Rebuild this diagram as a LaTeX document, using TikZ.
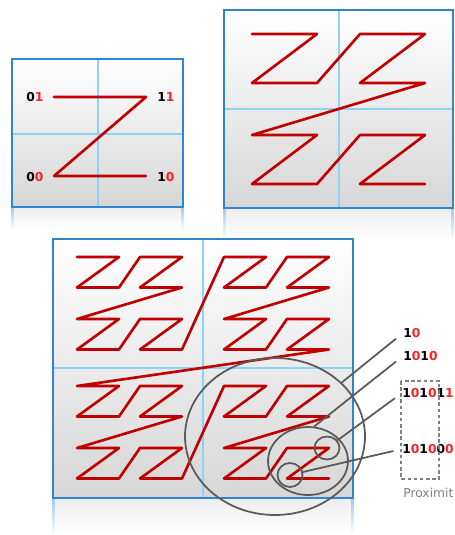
\documentclass[tikz,border=0pt]{standalone}
\usepackage{fontspec}
\setmainfont{DejaVu Sans}
\usetikzlibrary{shapes.geometric}

\definecolor{frameblue}{RGB}{46,134,208}
\definecolor{gridblue}{RGB}{141,211,245}
\definecolor{curvered}{RGB}{192,0,0}
\definecolor{bitred}{RGB}{255,32,32}
\definecolor{ringgray}{RGB}{90,90,90}

\newcommand{\ybit}[1]{\textcolor{bitred}{#1}}

\begin{document}
\begin{tikzpicture}[
    x=0.02cm, y=-0.02cm,
    panel/.style={top color=white, bottom color=gray!32},
    reflect/.style={top color=gray!14, bottom color=white},
    edgefade/.style={top color=frameblue!45, bottom color=white},
    frame/.style={draw=frameblue, line width=1.1pt},
    gridline/.style={draw=gridblue, line width=0.6pt},
    zline/.style={draw=curvered, line width=1.5pt, line join=round, line cap=round},
    bit/.style={font=\fontsize{7}{8}\selectfont\bfseries, inner sep=0pt, anchor=west},
    ring/.style={ellipse, draw=ringgray, line width=1pt, inner sep=0pt},
    pointer/.style={draw=ringgray, line width=1pt, shorten >=5pt},
]
\useasboundingbox (0,0) rectangle (455,535);

% Order 1 panel
\shade[reflect] (12,207) rectangle (183,230);
\shade[edgefade] (11,207) rectangle (13.5,230);
\shade[edgefade] (181.5,207) rectangle (184,230);
\shade[panel] (12,59) rectangle (183,207);
\draw[gridline] (98,59) -- (98,207) (12,134) -- (183,134);
\draw[frame] (12,59) rectangle (183,207);

\node[bit] (b01) at (26,97) {0\ybit{1}};
\node[bit] (b11) at (157,97) {1\ybit{1}};
\node[bit] (b00) at (26,177) {0\ybit{0}};
\node[bit] (b10) at (157,177) {1\ybit{0}};
\coordinate (z01) at (54,97);
\coordinate (z11) at (146,97);
\coordinate (z00) at (54,176);
\coordinate (z10) at (146,176);
\draw[zline] (z01) -- (z11) -- (z00) -- (z10);

% Order 2 panel
\shade[reflect] (224,208) rectangle (453,240);
\shade[edgefade] (223,208) rectangle (225.5,240);
\shade[edgefade] (451.5,208) rectangle (454,240);
\shade[panel] (224,10) rectangle (453,208);
\draw[gridline] (339,10) -- (339,208) (224,109) -- (453,109);
\draw[frame] (224,10) rectangle (453,208);

\foreach \i in {0,...,15} {
  \pgfmathtruncatemacro{\hi}{int(\i/4)}
  \pgfmathtruncatemacro{\lo}{mod(\i,4)}
  \coordinate (q\i) at ({252+108*mod(\hi,2)+65*mod(\lo,2)}, {34+101*int(\hi/2)+49*int(\lo/2)});
}
\draw[zline] (q0) \foreach \i in {1,...,15} {-- (q\i)};

% Order 3 panel
\shade[reflect] (53,498) rectangle (353,535);
\shade[edgefade] (52,498) rectangle (54.5,535);
\shade[edgefade] (351.5,498) rectangle (354,535);
\shade[panel] (53,239) rectangle (353,498);
\draw[gridline] (203,239) -- (203,498) (53,368) -- (353,368);
\draw[frame] (53,239) rectangle (353,498);

\foreach \i in {0,...,63} {
  \pgfmathtruncatemacro{\hi}{int(\i/16)}
  \pgfmathtruncatemacro{\md}{mod(int(\i/4),4)}
  \pgfmathtruncatemacro{\lo}{mod(\i,4)}
  \coordinate (p\i) at ({77+147*mod(\hi,2)+63*mod(\md,2)+42*mod(\lo,2)}, {257+129*int(\hi/2)+62*int(\md/2)+30.5*int(\lo/2)});
}
\draw[zline] (p0) \foreach \i in {1,...,63} {-- (p\i)};

% Proximity rings
\node[ring, minimum width=3.6cm, minimum height=3.14cm] (r10) at (275,436.5) {};
\node[ring, minimum width=1.6cm, minimum height=1.36cm] (r1010) at (308,461) {};
\node[ring, minimum width=0.5cm, minimum height=0.46cm] (r101011) at (327,448) {};
\node[ring, minimum width=0.5cm, minimum height=0.48cm] (r101000) at (290,475) {};

% Prefix labels
\node[bit] (l10) at (403,333) {1\ybit{0}};
\node[bit] (l1010) at (403,356) {1\ybit{0}1\ybit{0}};
\node[bit] (l101011) at (402,393) {1\ybit{0}1\ybit{0}1\ybit{1}};
\node[bit] (l101000) at (402,449) {1\ybit{0}1\ybit{0}0\ybit{0}};

\draw[pointer] (r10) -- (l10.west);
\draw[pointer] (r1010.80) -- (l1010.west);
\draw[pointer] (r101011) -- (l101011.west);
\draw[pointer] (r101000) -- (l101000.west);

\draw[gray, line width=0.6pt, dash pattern=on 2pt off 1.5pt] (401,381) rectangle (439,479);
\node[font=\fontsize{7}{8}\selectfont, text=gray, inner sep=0pt, anchor=west] (prox) at (403,493) {Proximit};
\end{tikzpicture}
\end{document}
